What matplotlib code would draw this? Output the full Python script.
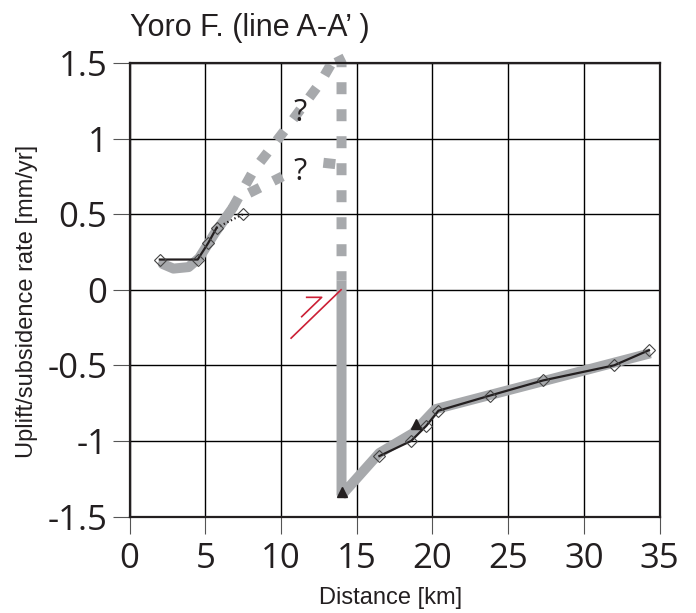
import matplotlib
matplotlib.use("Agg")
from matplotlib import pyplot as plt

# Uplift / subsidence profile across the Yoro fault (line A-A')
gray = '#a7a9ac'
red = '#cc1f35'
ink = '#231f20'

# broad gray trend, west side (solid) and its uncertain continuation (dashed)
trend_w_x = [2.2, 2.9, 3.9, 4.6, 5.6, 6.8]
trend_w_y = [0.17, 0.14, 0.15, 0.21, 0.37, 0.54]
upper_x = [6.8, 8.2, 10.6, 12.6, 13.7, 14.0, 14.0]
upper_y = [0.54, 0.79, 1.10, 1.37, 1.56, 1.50, 0.06]
lower_a_x = [7.9, 10.1]
lower_a_y = [0.64, 0.75]
lower_b_x = [12.8, 13.7]
lower_b_y = [0.84, 0.83]

# gray trend, east side
trend_e_x = [14.0, 14.0, 16.5, 18.7, 20.2, 34.4]
trend_e_y = [0.06, -1.36, -1.08, -0.95, -0.79, -0.42]

# measured rates
west_x = [2.0, 4.5, 5.2, 5.75]
west_y = [0.2, 0.2, 0.31, 0.41]
west_dot_x = [5.75, 7.5]
west_dot_y = [0.41, 0.5]
east_x = [16.5, 18.6, 19.6, 20.4, 23.8, 27.3, 32.0, 34.3]
east_y = [-1.1, -1.0, -0.9, -0.8, -0.7, -0.6, -0.5, -0.4]
tri_x = [14.0, 18.9]
tri_y = [-1.34, -0.89]

# fault trace with slip half-arrow
fault_x = [10.67, 13.97]
fault_y = [-0.32, 0.0]
arrow_x = [11.7, 12.69, 11.37]
arrow_y = [-0.05, -0.05, -0.178]

xticks = [0, 5, 10, 15, 20, 25, 30, 35]
yticks = [-1.5, -1, -0.5, 0, 0.5, 1, 1.5]
ytick_labels = ['-1.5', '-1', '-0.5', '0', '0.5', '1', '1.5']

fig = plt.figure(figsize=(6.96, 6.13), dpi=100)
ax = fig.add_axes([0.1861, 0.1574, 0.7615, 0.7398])

ax.set_xlim(0, 35)
ax.set_ylim(-1.5, 1.5)
ax.set_xticks(xticks)
ax.set_yticks(yticks)
ax.set_yticklabels(ytick_labels)
ax.grid(True, color='black', linewidth=1.0, zorder=0)
ax.set_axisbelow(True)

for sp in ax.spines.values():
    sp.set_linewidth(1.6)
    sp.set_color(ink)

ax.tick_params(direction='out', length=12, width=0.8, color='#555555',
               labelsize=25, labelcolor=ink)
ax.tick_params(axis='x', pad=6)
ax.tick_params(axis='y', pad=4)
for lab in ax.get_xticklabels() + ax.get_yticklabels():
    lab.set_family('Open Sans')

dash = (0, (1.2, 1.5))
ax.plot(trend_w_x, trend_w_y, color=gray, lw=7.2, solid_capstyle='round', zorder=2)
ax.plot(upper_x, upper_y, color=gray, lw=7.2, ls=dash, dash_capstyle='butt',
        clip_on=False, zorder=2)
ax.plot(lower_a_x, lower_a_y, color=gray, lw=7.2, ls=dash, dash_capstyle='butt', zorder=2)
ax.plot(lower_b_x, lower_b_y, color=gray, lw=7.2, ls=dash, dash_capstyle='butt', zorder=2)
ax.plot(trend_e_x, trend_e_y, color=gray, lw=7.2, solid_capstyle='butt',
        solid_joinstyle='bevel', zorder=2)

ax.plot(fault_x, fault_y, color=red, lw=1.2, zorder=3)
ax.plot(arrow_x, arrow_y, color=red, lw=1.2, zorder=3)

ax.plot(west_x, west_y, color=ink, lw=1.6, zorder=4)
ax.plot(west_dot_x, west_dot_y, color=ink, lw=1.6, ls=(0, (0.6, 1.2)), zorder=4)
ax.plot(east_x, east_y, color=ink, lw=1.6, zorder=4)
ax.plot(west_x + west_dot_x[1:], west_y + west_dot_y[1:], ls='none', marker='D', ms=6,
        mfc='none', mec='#444444', mew=0.8, zorder=5)
ax.plot(east_x, east_y, ls='none', marker='D', ms=6,
        mfc='none', mec='#444444', mew=0.8, zorder=5)
ax.plot(tri_x, tri_y, ls='none', marker='^', ms=7, color=ink, zorder=5)

ax.text(11.26, 1.17, '?', fontsize=22, family='Open Sans', color=ink,
        ha='center', va='center', zorder=6)
ax.text(11.26, 0.78, '?', fontsize=22, family='Open Sans', color=ink,
        ha='center', va='center', zorder=6)

fig.text(130 / 696, 1 - 28 / 613, 'Yoro F. (line A-A\u2019 )', fontsize=22,
         family='Liberation Sans', color=ink, ha='left', va='center')
fig.text(27 / 696, 1 - 301 / 613, 'Uplift/subsidence rate [mm/yr]', fontsize=17,
         family='Liberation Sans', color=ink, rotation=90, ha='center', va='center')
fig.text(391 / 696, 1 - 598 / 613, 'Distance [km]', fontsize=17,
         family='Liberation Sans', color=ink, ha='center', va='center')

plt.savefig('out.png', dpi=100)
plt.close()
